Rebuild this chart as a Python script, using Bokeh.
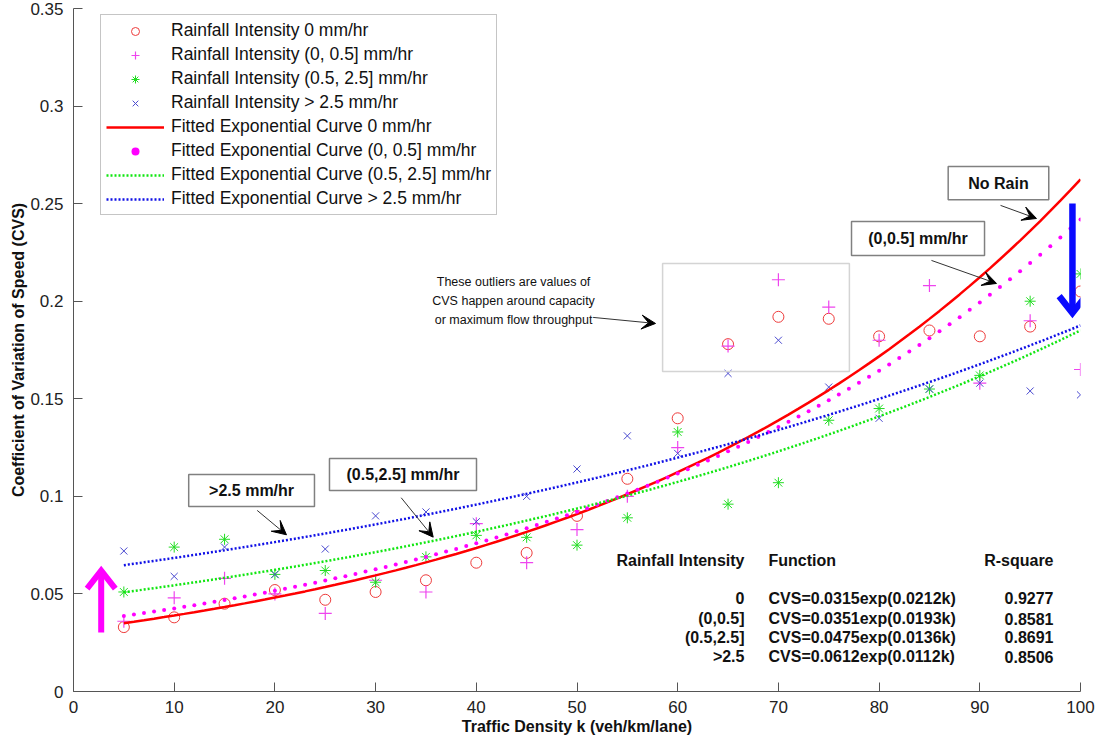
import numpy as np
from bokeh.plotting import figure
from bokeh.models import (Range1d, Legend, LegendItem, Arrow, VeeHead,
                          ColumnDataSource, FixedTicker)
from bokeh.embed import file_html
from bokeh.resources import INLINE
from bokeh.core.properties import value

# ---------------- data ----------------
density = [5, 10, 15, 20, 25, 30, 35, 40, 45, 50,
           55, 60, 65, 70, 75, 80, 85, 90, 95, 100]

cvs_rain_0 = [0.033, 0.038, 0.045, 0.052, 0.047, 0.051, 0.057, 0.066, 0.071, 0.090,
              0.109, 0.140, 0.178, 0.192, 0.191, 0.182, 0.185, 0.182, 0.187, 0.205]
cvs_rain_0_05 = [0.036, 0.048, 0.058, 0.050, 0.040, 0.057, 0.051, 0.086, 0.066, 0.083,
                 0.100, 0.125, 0.177, 0.211, 0.197, 0.180, 0.208, 0.158, 0.190, 0.165]
cvs_rain_05_25 = [0.051, 0.074, 0.078, 0.060, 0.062, 0.056, 0.069, 0.080, 0.079, 0.075,
                  0.089, 0.133, 0.096, 0.107, 0.139, 0.145, 0.155, 0.162, 0.200, 0.214]
cvs_rain_gt25 = [0.072, 0.059, 0.074, 0.060, 0.073, 0.090, 0.092, 0.087, 0.100, 0.114,
                 0.131, 0.122, 0.163, 0.180, 0.156, 0.140, 0.155, 0.158, 0.154, 0.152]

# fitted exponential model CVS = a * exp(b k), as printed in the chart
fit_a = [0.0315, 0.0351, 0.0475, 0.0612]
fit_b = [0.0212, 0.0193, 0.0136, 0.0112]
r_square = ["0.9277", "0.8581", "0.8691", "0.8506"]
intensity_labels = ["0", "(0,0.5]", "(0.5,2.5]", ">2.5"]
function_labels = ["CVS=%.4fexp(%.4fk)" % (a, b) for a, b in zip(fit_a, fit_b)]

legend_labels = [
    "Rainfall Intensity 0 mm/hr",
    "Rainfall Intensity (0, 0.5] mm/hr",
    "Rainfall Intensity (0.5, 2.5] mm/hr",
    "Rainfall Intensity > 2.5 mm/hr",
    "Fitted Exponential Curve 0 mm/hr",
    "Fitted Exponential Curve (0, 0.5] mm/hr",
    "Fitted Exponential Curve (0.5, 2.5] mm/hr",
    "Fitted Exponential Curve > 2.5 mm/hr",
]

x_ticks = [0, 10, 20, 30, 40, 50, 60, 70, 80, 90, 100]
y_ticks = [0, 0.05, 0.1, 0.15, 0.2, 0.25, 0.3, 0.35]
y_tick_labels = ["0", "0.05", "0.1", "0.15", "0.2", "0.25", "0.3", "0.35"]

FONT = "Liberation Sans"

# ---------------- figure ----------------
p = figure(width=1100, height=742, output_backend="svg", toolbar_location=None,
           x_range=Range1d(0, 100), y_range=Range1d(0, 0.35),
           min_border_left=73, min_border_right=20, min_border_top=8,
           min_border_bottom=51)
p.outline_line_color = None
p.grid.visible = False
p.background_fill_color = "white"
p.border_fill_color = "white"

for ax in (p.xaxis[0], p.yaxis[0]):
    ax.axis_line_color = "#555555"
    ax.major_tick_line_color = "#555555"
    ax.major_tick_in = 9
    ax.major_tick_out = 0
    ax.minor_tick_in = 0
    ax.minor_tick_out = 0
    ax.major_label_text_font = FONT
    ax.major_label_text_font_size = "17px"
    ax.major_label_text_color = "#222222"
    ax.axis_label_text_font = FONT
    ax.axis_label_text_font_style = "bold"
    ax.axis_label_text_font_size = "16px"
    ax.axis_label_text_color = "#111111"

p.xaxis.ticker = FixedTicker(ticks=x_ticks)
p.yaxis.ticker = FixedTicker(ticks=y_ticks)
p.yaxis.major_label_overrides = dict(zip(y_ticks, y_tick_labels))
p.xaxis.major_label_standoff = 9
p.xaxis.axis_label_standoff = 2
p.yaxis.major_label_standoff = 10
p.yaxis.axis_label_standoff = 0
p.xaxis.axis_label = "Traffic Density k (veh/km/lane)"
p.yaxis.axis_label = "Coefficient of Variation of Speed (CVS)"

# ---------------- observed points ----------------
r_pt0 = p.scatter(density, cvs_rain_0, marker="circle", size=11, fill_color=None,
                  line_color="#ee3b3b", line_width=1)
r_pt1 = p.scatter(density, cvs_rain_0_05, marker="cross", size=13,
                  line_color="#ee44ee", line_width=1.2)
r_pt2 = p.scatter(density, cvs_rain_05_25, marker="asterisk", size=11,
                  line_color="#22dd22", line_width=1)
r_pt3 = p.scatter(density, cvs_rain_gt25, marker="x", size=10,
                  line_color="#4a4ad0", line_width=1)

# ---------------- fitted curves ----------------
k_fit = np.arange(density[0], density[-1] + 1, 1.0)
fits = [a * np.exp(b * k_fit) for a, b in zip(fit_a, fit_b)]

r_fit0 = p.line(k_fit, fits[0], line_color="#ff0000", line_width=2.5)
r_fit1 = p.scatter(k_fit, fits[1], marker="circle", size=4,
                   fill_color="#ff00ff", line_color=None)
r_fit2 = p.line(k_fit, fits[2], line_color="#11e611", line_width=2.5, line_dash="2 2")
r_fit3 = p.line(k_fit, fits[3], line_color="#1010e6", line_width=2.5, line_dash="2 2")

# ---------------- outlier box and note ----------------
p.quad(left=[58.5], right=[77.05], top=[0.2193], bottom=[0.1640],
       fill_color=None, line_color="#d4d4d4", line_width=1.5)
p.text(x=[43.7, 43.7, 43.7], y=[0.2096, 0.1999, 0.1906],
       text=["These outliers are values of", "CVS happen around capacity",
             "or maximum flow throughput"],
       text_font=value(FONT), text_font_size="12.5px", text_align="center",
       text_baseline="middle", text_color="#111111")

# ---------------- callout arrows ----------------
arrows = ColumnDataSource(dict(
    x0=[92.06, 85.2, 18.24, 32.54, 51.6],
    y0=[0.2491, 0.2209, 0.0928, 0.0993, 0.1917],
    x1=[95.63, 91.66, 21.15, 35.72, 57.80],
    y1=[0.2424, 0.2091, 0.0803, 0.0791, 0.1886],
))
p.add_layout(Arrow(end=VeeHead(size=14, fill_color="black", line_color="black"),
                   x_start="x0", y_start="y0", x_end="x1", y_end="y1",
                   source=arrows, line_color="#333333", line_width=1))

# ---------------- labelled boxes ----------------
box_left = [86.86, 77.26, 11.44, 25.42]
box_right = [96.85, 90.47, 23.93, 40.02]
box_top = [0.2690, 0.2409, 0.1112, 0.1194]
box_bottom = [0.2520, 0.2234, 0.0948, 0.1030]
box_text = ["No Rain", "(0,0.5] mm/hr", ">2.5 mm/hr", "(0.5,2.5] mm/hr"]
p.quad(left=box_left, right=box_right, top=box_top, bottom=box_bottom,
       fill_color="white", line_color="#808080", line_width=1.5)
p.text(x=[(l + r) / 2 for l, r in zip(box_left, box_right)],
       y=[(t + b) / 2 for t, b in zip(box_top, box_bottom)],
       text=box_text, text_font=value(FONT), text_font_style="bold",
       text_font_size="16px", text_align="center", text_baseline="middle",
       text_color="#111111")

# ---------------- big trend arrows ----------------
p.segment(x0=[2.75], y0=[0.0302], x1=[2.75], y1=[0.060],
          line_color="#ff00ff", line_width=6)
p.line([2.75 - 1.4, 2.75, 2.75 + 1.4], [0.0619 - 0.0092, 0.0619, 0.0619 - 0.0092],
       line_color="#ff00ff", line_width=6, line_join="miter")
p.segment(x0=[99.2], y0=[0.2501], x1=[99.2], y1=[0.195],
          line_color="#0a0aff", line_width=6.5)
p.line([99.2 - 1.32, 99.2, 99.2 + 1.32], [0.1940 + 0.0086, 0.1940, 0.1940 + 0.0086],
       line_color="#0a0aff", line_width=6.5, line_join="miter")

# ---------------- fit table ----------------
row_y = [0.0477, 0.0374, 0.0277, 0.0179]
head_y = 0.0671
tbl = dict(text_font=value(FONT), text_font_style="bold", text_font_size="16px",
           text_baseline="middle", text_color="#111111")
p.text(x=[66.63], y=[head_y], text=["Rainfall Intensity"], text_align="right", **tbl)
p.text(x=[69.02], y=[head_y], text=["Function"], text_align="left", **tbl)
p.text(x=[97.32], y=[head_y], text=["R-square"], text_align="right", **tbl)
p.text(x=[66.63] * 4, y=row_y, text=intensity_labels, text_align="right", **tbl)
p.text(x=[69.02] * 4, y=row_y, text=function_labels, text_align="left", **tbl)
p.text(x=[97.32] * 4, y=row_y, text=r_square, text_align="right", **tbl)

# ---------------- legend ----------------
renderers = [r_pt0, r_pt1, r_pt2, r_pt3, r_fit0, r_fit1, r_fit2, r_fit3]
legend = Legend(items=[LegendItem(label=l, renderers=[r])
                       for l, r in zip(legend_labels, renderers)],
                location=(27, 476))
legend.label_text_font = FONT
legend.label_text_font_size = "17.5px"
legend.label_text_color = "#111111"
legend.glyph_width = 58
legend.glyph_height = 20
legend.label_height = 20
legend.spacing = 3
legend.padding = 5
legend.margin = 0
legend.label_standoff = 7
legend.border_line_color = "#8c8c8c"
legend.border_line_width = 1.5
legend.background_fill_alpha = 1.0
p.add_layout(legend)

open("out.html", "w").write(file_html(p, INLINE))
